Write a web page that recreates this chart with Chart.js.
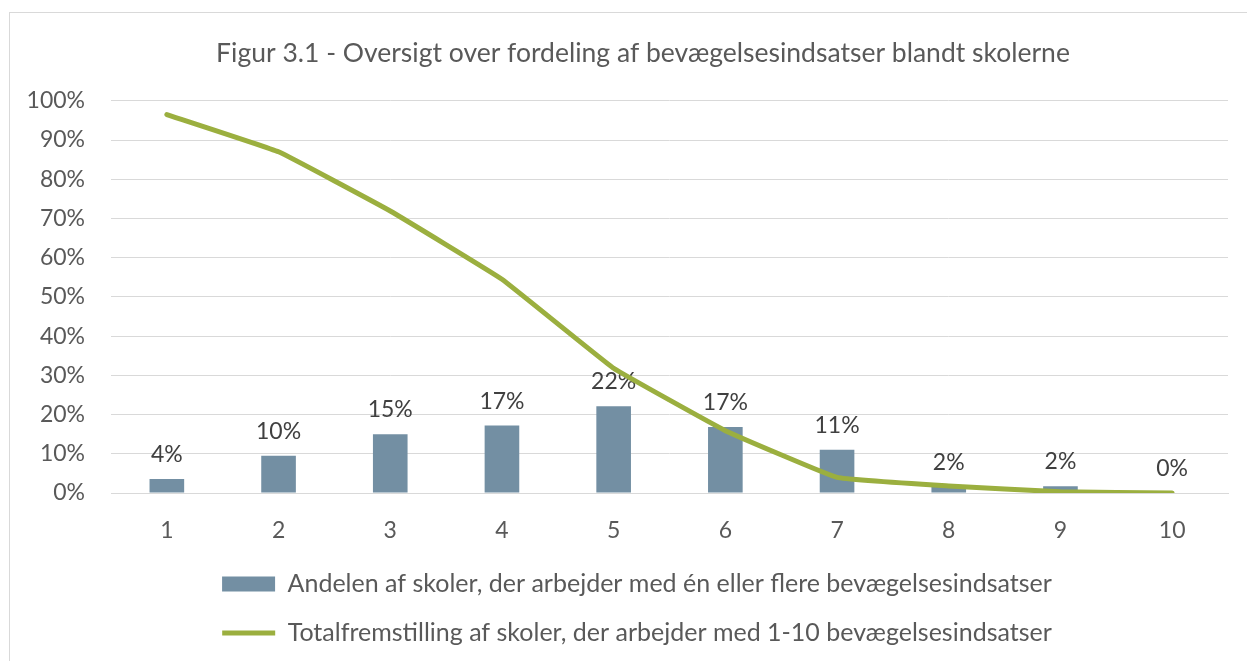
<!DOCTYPE html>
<html>
<head>
<meta charset="utf-8">
<script src="https://cdn.jsdelivr.net/npm/chart.js@4"></script>
<style>
  html, body { margin: 0; padding: 0; background: #fff; overflow: hidden; }
  #frame { position: absolute; left: 9px; top: 12px; width: 1260px; height: 720px; border: 1px solid #d9d9d9; }
  #wrap { position: absolute; left: 0; top: 0; width: 1247px; height: 700px; }
</style>
</head>
<body>
<div id="frame"></div>
<div id="wrap"><canvas id="chart"></canvas></div>
<script>
// Data
const categories = ['1', '2', '3', '4', '5', '6', '7', '8', '9', '10'];
const shareValues = [3.6, 9.5, 15.0, 17.2, 22.1, 16.8, 11.0, 1.6, 1.7, 0];
const totalValues = [96.5, 87.0, 71.9, 54.5, 31.8, 15.9, 4.0, 1.8, 0.3, 0];
const seriesNames = [
  'Andelen af skoler, der arbejder med én eller flere bevægelsesindsatser',
  'Totalfremstilling af skoler, der arbejder med 1-10 bevægelsesindsatser'
];
const chartTitle = 'Figur 3.1 - Oversigt over fordeling af bevægelsesindsatser blandt skolerne';

const FONT = 'Lato, "Open Sans", sans-serif';
const TEXT = '#595959';

// value labels above the bars
const barLabels = {
  id: 'barLabels',
  afterLayout(chart) {
    // title and legend sit centred on the outer frame, not on the plot box
    if (chart.titleBlock) {
      chart.titleBlock.left += 29;
      chart.titleBlock.right += 29;
    }
    if (chart.legend) {
      chart.legend.left += 23;
      chart.legend.right += 23;
    }
  },
  beforeDatasetsDraw(chart) {
    const ctx = chart.ctx;
    const meta = chart.getDatasetMeta(0);
    ctx.save();
    ctx.font = '23px ' + FONT;
    ctx.fillStyle = '#404040';
    ctx.textAlign = 'center';
    ctx.textBaseline = 'alphabetic';
    meta.data.forEach((bar, i) => {
      ctx.fillText(Math.round(shareValues[i]) + '%', bar.x, bar.y - 17);
    });
    ctx.restore();
  }
};

const ctx = document.getElementById('chart').getContext('2d');
new Chart(ctx, {
  type: 'bar',
  data: {
    labels: categories,
    datasets: [{
      type: 'bar',
      label: seriesNames[0],
      data: shareValues,
      backgroundColor: '#738fa3',
      borderWidth: 0,
      barPercentage: 0.31,
      categoryPercentage: 1,
      pointStyle: 'rect',
      order: 1
    }, {
      type: 'line',
      label: seriesNames[1],
      data: totalValues,
      borderColor: '#9baf3f',
      backgroundColor: '#9baf3f',
      borderWidth: 5,
      borderCapStyle: 'round',
      borderJoinStyle: 'round',
      tension: 0.08,
      pointRadius: 0,
      pointStyle: 'line',
      fill: false,
      order: 0
    }]
  },
  options: {
    responsive: true,
    maintainAspectRatio: false,
    animation: false,
    layout: { padding: { left: 0, right: 19, top: 0, bottom: 44.5 } },
    plugins: {
      title: {
        display: true,
        text: chartTitle,
        color: TEXT,
        font: { family: FONT, size: 26.5, weight: 'normal' },
        padding: { top: 38, bottom: 31 }
      },
      legend: {
        position: 'bottom',
        labels: {
          usePointStyle: true,
          pointStyleWidth: 53,
          boxHeight: 15,
          padding: 24,
          color: TEXT,
          font: { family: FONT, size: 25 },
          sort: (a, b) => a.datasetIndex - b.datasetIndex
        }
      },
      tooltip: { enabled: false }
    },
    scales: {
      x: {
        grid: { display: false, drawTicks: false },
        border: { color: '#d9d9d9', width: 1 },
        ticks: { color: TEXT, font: { family: FONT, size: 23 }, padding: 24 },
        afterFit(scale) { scale.height = 54.5; }
      },
      y: {
        min: 0,
        max: 100,
        ticks: {
          stepSize: 10,
          color: TEXT,
          font: { family: FONT, size: 23 },
          padding: 26,
          callback: v => v + '%'
        },
        grid: { color: '#d9d9d9', lineWidth: 1, drawTicks: false },
        border: { display: false },
        afterFit(scale) { scale.width = 111; }
      }
    }
  },
  plugins: [barLabels]
});
</script>
</body>
</html>
